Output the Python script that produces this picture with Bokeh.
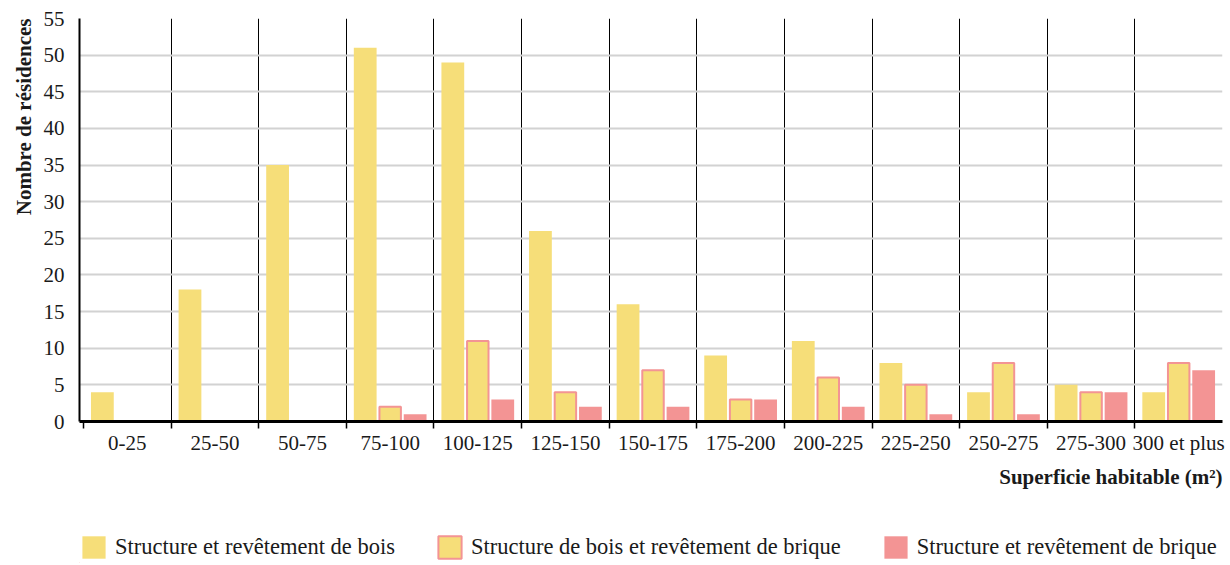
from bokeh.plotting import figure
from bokeh.layouts import column
from bokeh.models import Range1d, FixedTicker, Title, Legend, LegendItem, ColumnDataSource
from bokeh.embed import file_html
from bokeh.resources import INLINE

categories = ["0-25", "25-50", "50-75", "75-100", "100-125", "125-150", "150-175",
              "175-200", "200-225", "225-250", "250-275", "275-300", "300 et plus"]
bois = [4, 18, 35, 51, 49, 26, 16, 9, 11, 8, 4, 5, 4]
bois_brique = [0, 0, 0, 2, 11, 4, 7, 3, 6, 5, 8, 4, 8]
brique = [0, 0, 0, 1, 3, 2, 2, 3, 2, 1, 1, 4, 7]
y_ticks = [0, 5, 10, 15, 20, 25, 30, 35, 40, 45, 50, 55]
series_names = ["Structure et revêtement de bois",
                "Structure de bois et revêtement de brique",
                "Structure et revêtement de brique"]
x_title = "Superficie habitable (m²)"
y_title = "Nombre de résidences"

YELLOW = "#F6DE79"
RED = "#F39494"
FONT = "Liberation Serif"
TXT = "#1a1a1a"

n = len(categories)
idx = list(range(n))
off = 0.285

def src(vals, shift):
    xs = [i + shift for i, v in zip(idx, vals) if v > 0]
    ts = [v for v in vals if v > 0]
    return ColumnDataSource(dict(x=xs, top=ts))

p = figure(width=1228, height=493,
           x_range=Range1d(-0.546, n - 0.5), y_range=Range1d(0, 55),
           output_backend="svg", toolbar_location=None,
           min_border_left=79, min_border_right=6, min_border_top=18, min_border_bottom=70)
p.outline_line_color = None
p.background_fill_color = "white"

p.vbar(x="x", top="top", source=src(bois, -off), width=0.26,
       fill_color=YELLOW, line_color=None)
p.vbar(x="x", top="top", source=src(bois_brique, 0), width=0.245,
       fill_color=YELLOW, line_color=RED, line_width=2)
p.vbar(x="x", top="top", source=src(brique, off), width=0.26,
       fill_color=RED, line_color=None)

# y axis
ya = p.yaxis[0]
ya.ticker = FixedTicker(ticks=y_ticks)
ya.axis_line_color = "black"
ya.axis_line_width = 2
ya.major_tick_line_color = None
ya.minor_tick_line_color = None
ya.major_label_text_font = FONT
ya.major_label_text_font_size = "21px"
ya.major_label_text_color = TXT
ya.major_label_standoff = 9

# x axis
xa = p.xaxis[0]
xa.ticker = FixedTicker(ticks=idx, minor_ticks=[i - 0.5 for i in idx])
xa.major_tick_in = 0
xa.major_tick_out = 0
xa.major_tick_line_color = None
xa.minor_tick_in = 0
xa.minor_tick_out = 7
xa.minor_tick_line_color = "black"
xa.minor_tick_line_width = 1.5
xa.axis_line_color = "black"
xa.axis_line_width = 3
xa.major_label_overrides = {i: c for i, c in zip(idx, categories)}
xa.major_label_text_font = FONT
xa.major_label_text_font_size = "21px"
xa.major_label_text_color = TXT
xa.major_label_standoff = 2

# grids
p.ygrid.ticker = FixedTicker(ticks=y_ticks)
p.ygrid.grid_line_color = "#d2d2d2"
p.ygrid.grid_line_width = 2
p.xgrid.ticker = FixedTicker(ticks=[i + 0.5 for i in idx[:-1]])
p.xgrid.grid_line_color = "black"
p.xgrid.grid_line_width = 1

# titles
ytitle = Title(text=y_title, align="right", text_font=FONT,
               text_font_size="21px", text_font_style="bold", text_color=TXT)
p.add_layout(ytitle, "left")
xtitle = Title(text=x_title, align="right", text_font=FONT,
               text_font_size="21px", text_font_style="bold", text_color=TXT)
p.add_layout(xtitle, "below")

# legend strip (legend-only renderers kept far outside the visible area)
pl = figure(width=1228, height=70, x_range=Range1d(0, 1), y_range=Range1d(0, 1),
            output_backend="svg", toolbar_location=None,
            x_axis_location=None, y_axis_location=None, min_border=0)
pl.outline_line_color = None
pl.grid.visible = False
e1 = pl.vbar(x=[-100], top=[-100], bottom=[-101], width=0.1,
             fill_color=YELLOW, line_color=None)
e2 = pl.vbar(x=[-100], top=[-100], bottom=[-101], width=0.1,
             fill_color=YELLOW, line_color=RED, line_width=2)
e3 = pl.vbar(x=[-100], top=[-100], bottom=[-101], width=0.1,
             fill_color=RED, line_color=None)

legend = Legend(items=[LegendItem(label=series_names[0], renderers=[e1]),
                       LegendItem(label=series_names[1], renderers=[e2]),
                       LegendItem(label=series_names[2], renderers=[e3])],
                orientation="horizontal", location=(0, 2),
                glyph_width=29, glyph_height=28, label_text_font=FONT,
                label_text_font_size="22.5px", label_text_color=TXT,
                spacing=40, label_standoff=7, border_line_color=None,
                background_fill_alpha=0, padding=0, margin=0)
pl.add_layout(legend)

layout = column(p, pl, spacing=0)
open("out.html", "w").write(file_html(layout, INLINE))
